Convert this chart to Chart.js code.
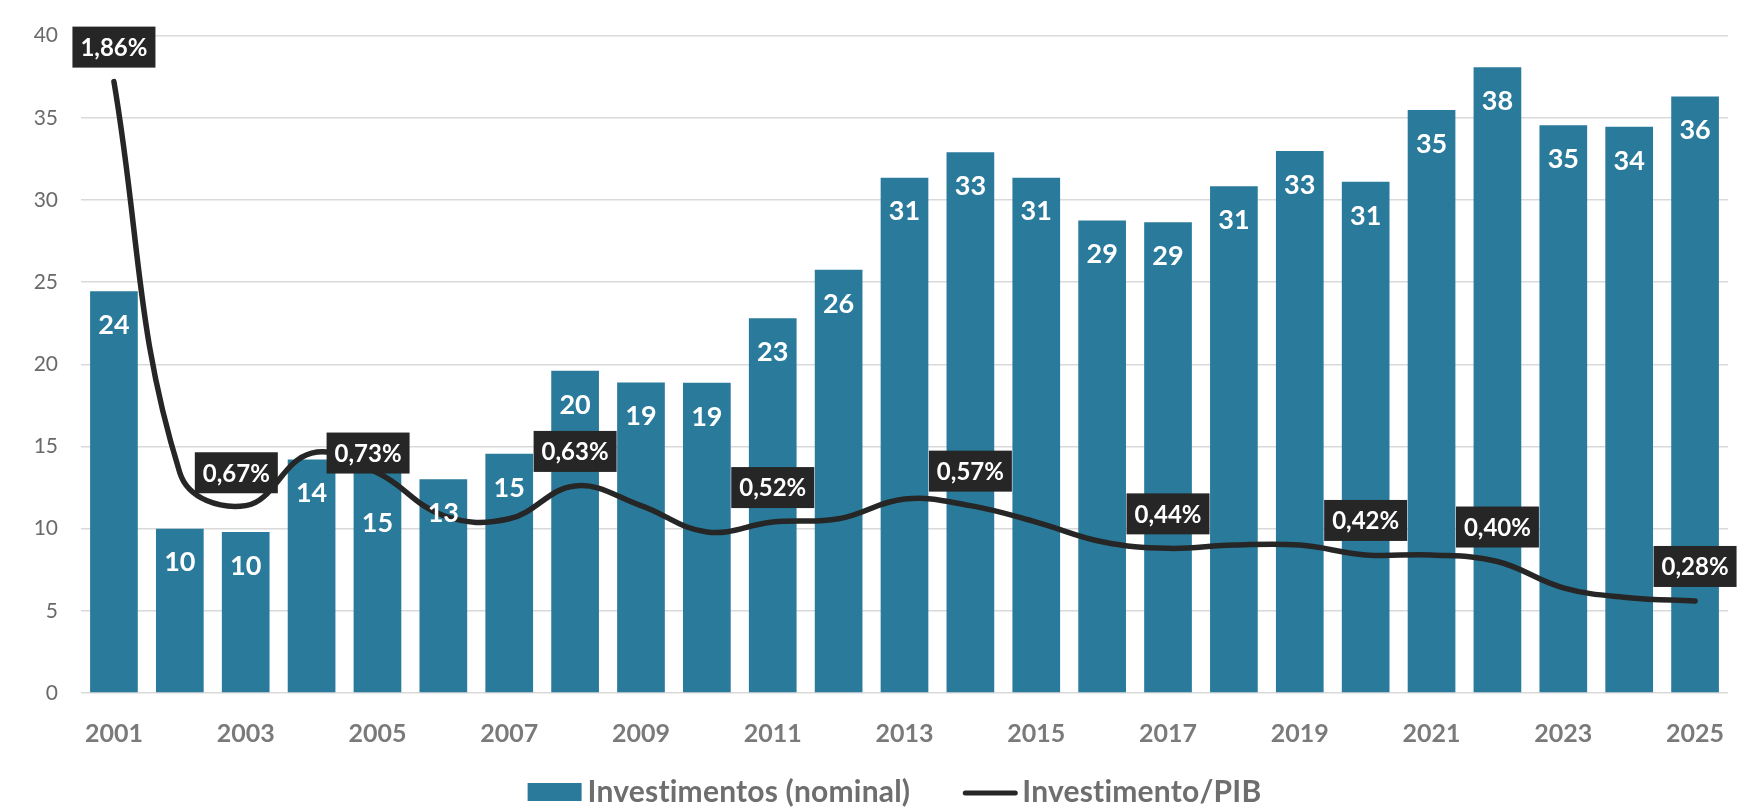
<!DOCTYPE html>
<html>
<head>
<meta charset="utf-8">
<script src="https://cdn.jsdelivr.net/npm/chart.js@4.4.0/dist/chart.umd.min.js"></script>
<style>
  html, body { margin: 0; padding: 0; background: #ffffff; }
  #wrap { width: 1761px; height: 808px; position: relative; }
</style>
</head>
<body>
<div id="wrap"><canvas id="chart"></canvas></div>
<script>
// Anos (eixo X)
const years = ['2001', '2002', '2003', '2004', '2005', '2006', '2007', '2008', '2009', '2010',
               '2011', '2012', '2013', '2014', '2015', '2016', '2017', '2018', '2019', '2020',
               '2021', '2022', '2023', '2024', '2025'];

// Investimentos (nominal) - barras
const investimentos = [24.45, 10.0, 9.8, 14.2, 14.8, 13.0, 14.55, 19.6, 18.9, 18.87,
                       22.8, 25.75, 31.35, 32.9, 31.35, 28.75, 28.65, 30.83, 32.98, 31.1,
                       35.48, 38.08, 34.55, 34.45, 36.3];

// Investimento/PIB (%) - linha
const investimentoPib = [1.86, 0.67, 0.57, 0.73, 0.67, 0.54, 0.53, 0.63, 0.57, 0.49,
                         0.52, 0.53, 0.59, 0.57, 0.52, 0.46, 0.44, 0.45, 0.45, 0.42,
                         0.42, 0.40, 0.32, 0.29, 0.28];

// anos com rótulo na linha
const pibLabelYears = ['2001', '2002', '2004', '2008', '2011', '2014', '2017', '2020', '2022', '2025'];
const pibLabelRight = ['2002', '2004'];

const legendLabels = ['Investimentos (nominal)', 'Investimento/PIB'];

const BAR_COLOR = '#2a7b9b';
const LINE_COLOR = '#262626';
const FONT = 'Lato';

const fmtPct = v => v.toFixed(2).replace('.', ',') + '%';

const labelsPlugin = {
    id: 'labels',
    afterDatasetsDraw(chart) {
        const ctx = chart.ctx;
        const barMeta = chart.getDatasetMeta(0);
        const lineMeta = chart.getDatasetMeta(1);
        const boxW = 83, boxH = 41;

        // caixas dos rótulos da linha
        const boxes = pibLabelYears.map(year => {
            const i = years.indexOf(year);
            const pt = lineMeta.data[i];
            let cx, cy;
            if (pibLabelRight.includes(year)) {
                cx = pt.x + 15 + boxW / 2;
                cy = pt.y;
            } else {
                cx = pt.x;
                cy = pt.y - 14 - boxH / 2;
            }
            return { text: fmtPct(investimentoPib[i]), x: cx - boxW / 2, y: cy - boxH / 2, w: boxW, h: boxH };
        });

        // rótulos das barras
        ctx.save();
        ctx.font = `bold 27px ${FONT}`;
        ctx.fillStyle = '#ffffff';
        ctx.textAlign = 'center';
        ctx.textBaseline = 'middle';
        barMeta.data.forEach((bar, i) => {
            const text = String(Math.round(investimentos[i]));
            let cy = bar.y + 33;
            const tw = ctx.measureText(text).width;
            boxes.forEach(b => {
                const overlapX = bar.x + tw / 2 > b.x && bar.x - tw / 2 < b.x + b.w;
                const overlapY = cy + 14 > b.y && cy - 14 < b.y + b.h;
                if (overlapX && overlapY) cy = b.y + b.h + 49;
            });
            ctx.fillText(text, bar.x, cy + 1);
        });

        // caixas escuras
        ctx.font = `bold 24px ${FONT}`;
        boxes.forEach(b => {
            ctx.fillStyle = LINE_COLOR;
            ctx.fillRect(b.x, b.y, b.w, b.h);
            ctx.fillStyle = '#ffffff';
            ctx.fillText(b.text, b.x + b.w / 2, b.y + b.h / 2 + 1);
        });
        ctx.restore();
    }
};

const legendPlugin = {
    id: 'customLegend',
    afterDraw(chart) {
        const ctx = chart.ctx;
        const y = 792;
        const swatch = 54;
        const gap = 53;
        ctx.save();
        ctx.font = `bold 30px ${FONT}`;
        ctx.letterSpacing = '0.2px'; // evita a ligadura "ti"
        ctx.textBaseline = 'middle';
        ctx.textAlign = 'left';
        const w1 = ctx.measureText(legendLabels[0]).width;
        const w2 = ctx.measureText(legendLabels[1]).width;
        const total = swatch + 6 + w1 + gap + swatch + 5 + w2;
        let x = chart.width / 2 + 14 - total / 2;

        ctx.fillStyle = BAR_COLOR;
        ctx.fillRect(x, y - 9, swatch, 18);
        x += swatch + 6;
        ctx.fillStyle = '#6e6e6e';
        ctx.fillText(legendLabels[0], x, y);
        x += w1 + gap;

        ctx.strokeStyle = LINE_COLOR;
        ctx.lineWidth = 5;
        ctx.lineCap = 'round';
        ctx.beginPath();
        ctx.moveTo(x + 2, y + 1);
        ctx.lineTo(x + swatch - 2, y + 1);
        ctx.stroke();
        x += swatch + 5;
        ctx.fillText(legendLabels[1], x, y);
        ctx.restore();
    }
};

new Chart(document.getElementById('chart'), {
    data: {
        labels: years,
        datasets: [
            {
                type: 'bar',
                label: legendLabels[0],
                data: investimentos,
                backgroundColor: BAR_COLOR,
                categoryPercentage: 1,
                barPercentage: 0.724,
                yAxisID: 'y',
                order: 2
            },
            {
                type: 'line',
                label: legendLabels[1],
                data: investimentoPib,
                borderColor: LINE_COLOR,
                borderWidth: 5.5,
                borderCapStyle: 'round',
                borderJoinStyle: 'round',
                tension: 0.4,
                pointRadius: 0,
                fill: false,
                yAxisID: 'y2',
                order: 1
            }
        ]
    },
    options: {
        responsive: true,
        maintainAspectRatio: false,
        animation: false,
        layout: { padding: { top: 21, right: 33, bottom: 0, left: 0 } },
        plugins: {
            legend: { display: false },
            tooltip: { enabled: false }
        },
        scales: {
            x: {
                grid: { display: false },
                border: { display: false },
                ticks: {
                    autoSkip: false,
                    maxRotation: 0,
                    padding: 18,
                    color: '#7a7a7a',
                    font: { family: FONT, weight: 'bold', size: 25 },
                    callback: (value, index) => index % 2 === 0 ? years[index] : ''
                },
                afterFit: (scale) => { scale.height = 115; }
            },
            y: {
                min: 0,
                max: 40,
                ticks: {
                    stepSize: 5,
                    padding: 23,
                    color: '#6a6a6a',
                    font: { family: FONT, size: 21 }
                },
                grid: { color: '#d9d9d9', lineWidth: 1.5, drawTicks: false },
                border: { display: false },
                afterFit: (scale) => { scale.width = 81; }
            },
            y2: {
                display: false,
                min: 0,
                max: 2
            }
        }
    },
    plugins: [labelsPlugin, legendPlugin]
});
</script>
</body>
</html>
